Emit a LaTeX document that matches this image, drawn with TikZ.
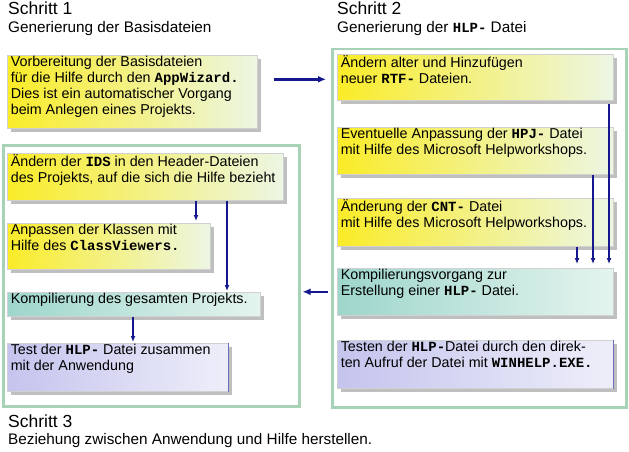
\documentclass[tikz,border=0pt]{standalone}
\usepackage{fontspec}
\setmainfont{Liberation Sans}
\newfontfamily\monof{Liberation Mono}[BoldFont={* Bold}]
\usetikzlibrary{arrows.meta,shadows,calc}
\definecolor{yelL}{RGB}{250,236,40}
\definecolor{yelM}{RGB}{244,244,170}
\definecolor{yelR}{RGB}{236,246,228}
\definecolor{teaL}{RGB}{158,214,204}
\definecolor{teaR}{RGB}{228,244,238}
\definecolor{lavL}{RGB}{196,196,238}
\definecolor{lavR}{RGB}{238,238,250}
\definecolor{navy}{RGB}{20,24,140}
\definecolor{frm}{RGB}{168,210,182}
\newcommand\mono[1]{{\monof\bfseries\fontsize{14}{15}\selectfont #1}}
\newcommand\bx[3]{\vbox to #2{\hsize=#1\relax\leftskip=3.5pt\rightskip=0pt plus 1fil\parindent=0pt\baselineskip=16pt\vskip 1pt #3\vfil}}
\begin{document}
\begin{tikzpicture}[x=1pt,y=-1pt,
  every node/.style={inner sep=0pt,font=\fontsize{14.3}{16}\selectfont},
  boxbase/.style={anchor=north west,draw=black!18,line width=0.6pt,
    drop shadow={shadow xshift=4pt,shadow yshift=-4pt,fill=black!55,opacity=0.45}},
  yelbox/.style={boxbase,left color=yelL,middle color=yelM,right color=yelR},
  teabox/.style={boxbase,left color=teaL,right color=teaR},
  lavbox/.style={boxbase,left color=lavL,right color=lavR},
  frame/.style={anchor=north west,draw=frm,line width=2.5pt,fill=white},
  varr/.style={draw=navy,line width=1.4pt,-{Latex[length=6pt,width=5pt]}},
  harr/.style={draw=navy,line width=2.6pt,-{Latex[length=8pt,width=7pt]}},
  head/.style={anchor=base west,font=\fontsize{17.5}{19}\selectfont},
  sub/.style={anchor=base west,font=\fontsize{15.3}{17}\selectfont}]
\useasboundingbox (0,0) rectangle (629,452);
\fill[white] (0,0) rectangle (629,452);
% headings
\node[head] (s1) at (8,15) {Schritt 1};
\node[sub] (g1) at (8,33) {Generierung der Basisdateien};
\node[head] (s2) at (337,15) {Schritt 2};
\node[sub] (g2) at (337,33) {Generierung der \mono{HLP-} Datei};
\node[head] (s3) at (8,427) {Schritt 3};
\node[sub] (g3) at (8,444) {Beziehung zwischen Anwendung und Hilfe herstellen.};
% frames
\node[frame,minimum width=294pt,minimum height=358pt] (F2) at (331,48) {};
\node[frame,minimum width=296pt,minimum height=261pt] (F1) at (2,144) {};
% step 1
\node[yelbox] (b1) at (7,55) {\bx{250pt}{73pt}{Vorbereitung der Basisdateien\par
 für die Hilfe durch den \mono{AppWizard.}\par
 Dies ist ein automatischer Vorgang\par beim Anlegen eines Projekts.}};
% step 2
\node[yelbox] (R1) at (337,54) {\bx{276pt}{46pt}{Ändern alter und Hinzufügen\par neuer \mono{RTF-} Dateien.}};
\node[yelbox] (R2) at (337,127) {\bx{276pt}{47pt}{Eventuelle Anpassung der \mono{HPJ-} Datei\par mit Hilfe des Microsoft Helpworkshops.}};
\node[yelbox] (R3) at (337,198) {\bx{276pt}{48pt}{Änderung der \mono{CNT-} Datei\par mit Hilfe des Microsoft Helpworkshops.}};
\node[teabox] (R4) at (337,268) {\bx{276pt}{47pt}{Kompilierungsvorgang zur\par Erstellung einer \mono{HLP-} Datei.}};
\node[lavbox] (R5) at (337,340) {\bx{276pt}{48pt}{Testen der \mono{HLP-}Datei durch den direk-\par ten Aufruf der Datei mit \mono{WINHELP.EXE.}}};
% step 3
\node[yelbox] (L1) at (7,153) {\bx{276pt}{47pt}{Ändern der \mono{IDS} in den Header-Dateien\par des Projekts, auf die sich die Hilfe bezieht}};
\node[yelbox] (L2) at (7,223) {\bx{203pt}{46pt}{Anpassen der Klassen mit\par Hilfe des \mono{ClassViewers.}}};
\node[teabox] (L3) at (7,292) {\bx{253pt}{24pt}{Kompilierung des gesamten Projekts.}};
\node[lavbox] (L4) at (7,343) {\bx{221pt}{48pt}{Test der \mono{HLP-} Datei zusammen\par mit der Anwendung}};
\draw[draw=lavL!50!navy,line width=1pt] (L4.north east) -- (L4.south east);
\draw[draw=lavL!50!navy,line width=1pt] (R5.north east) -- (R5.south east);
% connectors
\coordinate (xa) at (609,0);
\coordinate (xb) at (593,0);
\coordinate (xc) at (577,0);
\coordinate (xd) at (196,0);
\coordinate (xe) at (227,0);
\coordinate (xf) at (133,0);
\draw[varr] ([yshift=-3pt]xa |- R1.south) -- ([yshift=4pt]xa |- R4.north);
\draw[varr] (xb |- R2.south) -- ([yshift=4pt]xb |- R4.north);
\draw[varr] (xc |- R3.south) -- ([yshift=4pt]xc |- R4.north);
\draw[varr] (xd |- L1.south) -- ([yshift=2pt]xd |- L2.north);
\draw[varr] (xe |- L1.south) -- ([yshift=1pt]xe |- L3.north);
\draw[varr] (xf |- L3.south) -- ([yshift=1pt]xf |- L4.north);
\draw[harr] ([xshift=16pt,yshift=-2pt]b1.east |- R1.west) -- ([xshift=-5pt,yshift=-2pt]F2.west |- R1.west);
\draw[harr] ([xshift=-3pt]F2.west |- R4.west) -- ([xshift=2pt]F1.east |- R4.west);
\end{tikzpicture}
\end{document}
